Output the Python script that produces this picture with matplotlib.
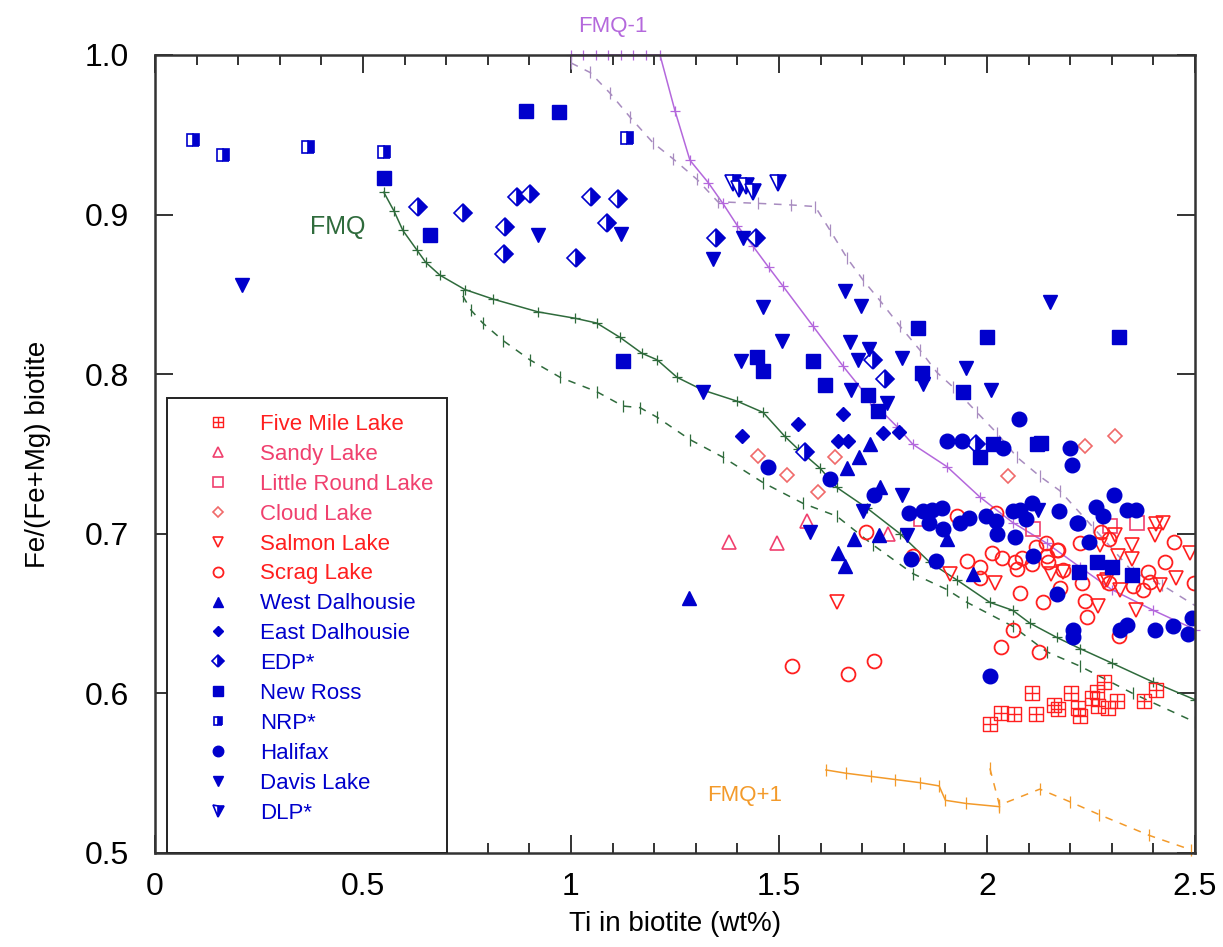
import matplotlib
matplotlib.use('Agg')
import numpy as np
import matplotlib.pyplot as plt
from matplotlib.path import Path
from matplotlib.lines import Line2D
from matplotlib.patches import Rectangle
from matplotlib.ticker import MultipleLocator, FixedLocator

plt.rcParams['font.family'] = ['Liberation Sans', 'DejaVu Sans']

# ---- data (Ti wt%, Fe/(Fe+Mg)) ----
five_mile_x = [2.007, 2.034, 2.065, 2.108, 2.118, 2.161, 2.171, 2.202, 2.219, 2.224, 2.252, 2.264, 2.281, 2.267, 2.291, 2.313, 2.377, 2.406]
five_mile_y = [0.581, 0.588, 0.587, 0.600, 0.587, 0.593, 0.590, 0.600, 0.591, 0.586, 0.597, 0.601, 0.607, 0.592, 0.591, 0.595, 0.595, 0.602]

sandy_x = [1.380, 1.495, 1.567, 1.762]
sandy_y = [0.695, 0.694, 0.708, 0.700]

little_round_x = [2.360, 2.296, 2.111, 1.841]
little_round_y = [0.707, 0.705, 0.703, 0.709]

cloud_x = [1.450, 1.635, 1.519, 1.594, 2.050, 2.236, 2.308]
cloud_y = [0.749, 0.748, 0.737, 0.726, 0.736, 0.755, 0.761]

salmon_x = [1.639, 1.911, 2.019, 2.154, 2.183, 2.406, 2.423, 2.404, 2.308, 2.272, 2.349, 2.315, 2.349,
            2.488, 2.454, 2.416, 2.288, 2.320, 2.267, 2.358, 2.281]
salmon_y = [0.657, 0.675, 0.669, 0.675, 0.676, 0.706, 0.707, 0.699, 0.699, 0.693, 0.693, 0.686, 0.684,
            0.688, 0.672, 0.668, 0.671, 0.665, 0.655, 0.652, 0.670]

scrag_x = [1.531, 1.666, 1.728, 1.709, 1.822, 1.952, 1.983, 1.983, 2.012, 2.036, 2.067, 2.072, 2.084,
           2.108, 2.118, 2.142, 2.144, 2.147, 2.168, 2.175, 2.183, 2.079, 2.135, 2.062, 2.034, 2.125,
           2.274, 2.293, 2.224, 2.171, 2.450, 2.428, 2.387, 2.392, 2.375, 2.351, 2.293, 2.498, 2.236,
           2.240, 2.228, 2.317, 1.928, 2.022]
scrag_y = [0.617, 0.612, 0.620, 0.701, 0.686, 0.683, 0.679, 0.672, 0.688, 0.685, 0.682, 0.678, 0.685,
           0.681, 0.692, 0.694, 0.686, 0.682, 0.690, 0.666, 0.677, 0.663, 0.657, 0.640, 0.629, 0.626,
           0.701, 0.697, 0.694, 0.690, 0.695, 0.682, 0.676, 0.670, 0.665, 0.667, 0.669, 0.669, 0.658,
           0.648, 0.669, 0.636, 0.711, 0.713]

west_dal_x = [1.284, 1.642, 1.659, 1.680, 1.740, 1.719, 1.692, 1.663, 1.743, 1.904, 1.966]
west_dal_y = [0.660, 0.688, 0.680, 0.697, 0.699, 0.756, 0.748, 0.741, 0.729, 0.697, 0.675]

east_dal_x = [1.546, 1.654, 1.750, 1.411, 1.642, 1.666, 1.788]
east_dal_y = [0.769, 0.775, 0.763, 0.761, 0.758, 0.758, 0.764]

edp_x = [0.632, 0.740, 0.870, 0.901, 0.841, 0.839, 1.048, 1.113, 1.087, 1.012, 1.349, 1.445, 1.726,
         1.755, 1.563, 1.974]
edp_y = [0.905, 0.901, 0.911, 0.913, 0.892, 0.875, 0.911, 0.910, 0.895, 0.873, 0.885, 0.885, 0.809,
         0.797, 0.751, 0.756]

new_ross_x = [0.55, 0.661, 0.892, 0.971, 1.125, 1.447, 1.462, 1.582, 1.611, 1.714, 1.738, 1.834, 2.0,
              2.317, 1.844, 1.942, 2.014, 1.983, 2.12, 2.13, 2.264, 2.30, 2.348, 2.221]
new_ross_y = [0.923, 0.887, 0.965, 0.964, 0.808, 0.811, 0.802, 0.808, 0.793, 0.787, 0.777, 0.829, 0.823,
              0.823, 0.801, 0.789, 0.756, 0.748, 0.756, 0.757, 0.682, 0.679, 0.674, 0.676]

nrp_x = [0.091, 0.163, 0.368, 0.550, 1.135]
nrp_y = [0.947, 0.937, 0.942, 0.939, 0.948]

halifax_x = [1.813, 1.846, 1.868, 1.892, 1.861, 1.895, 1.935, 1.957, 1.998, 2.022, 2.024, 2.067, 2.062,
             2.079, 2.108, 2.094, 2.173, 2.216, 1.817, 1.877, 2.111, 2.168, 2.207, 2.207, 1.474, 1.623,
             1.728, 1.904, 1.940, 2.077, 2.200, 2.204, 2.007, 2.305, 2.262, 2.279, 2.219, 2.337, 2.358,
             2.245, 2.320, 2.337, 2.404, 2.447, 2.483, 2.493, 2.038]
halifax_y = [0.713, 0.714, 0.715, 0.716, 0.707, 0.703, 0.707, 0.710, 0.711, 0.708, 0.700, 0.698, 0.714,
             0.715, 0.719, 0.709, 0.714, 0.707, 0.684, 0.683, 0.686, 0.662, 0.640, 0.635, 0.742, 0.734,
             0.724, 0.758, 0.758, 0.772, 0.754, 0.743, 0.611, 0.724, 0.717, 0.711, 0.707, 0.715, 0.715,
             0.695, 0.640, 0.643, 0.640, 0.642, 0.637, 0.647, 0.754]

davis_x = [0.209, 0.921, 1.12, 1.341, 1.413, 1.659, 1.697, 1.462, 1.507, 1.671, 1.716, 1.690, 1.409,
           1.673, 1.760, 1.317, 2.151, 1.796, 1.950, 1.847, 2.010, 1.796, 1.702, 1.575, 1.808, 2.123]
davis_y = [0.856, 0.887, 0.888, 0.872, 0.885, 0.852, 0.843, 0.842, 0.821, 0.820, 0.816, 0.809, 0.808,
           0.790, 0.782, 0.789, 0.845, 0.810, 0.804, 0.794, 0.790, 0.724, 0.714, 0.701, 0.699, 0.715]

dlp_x = [1.390, 1.405, 1.420, 1.438, 1.497]
dlp_y = [0.920, 0.916, 0.918, 0.914, 0.920]

# buffer curves
fmq_x = [0.55, 0.575, 0.596, 0.629, 0.651, 0.685, 0.745, 0.813, 0.921, 1.010, 1.062, 1.118, 1.171, 1.207,
         1.255, 1.317, 1.40, 1.462, 1.514, 1.546, 1.599, 1.639, 1.712, 1.791, 1.863, 1.928, 2.007, 2.062,
         2.103, 2.168, 2.224, 2.30, 2.40, 2.5]
fmq_y = [0.914, 0.902, 0.890, 0.878, 0.870, 0.862, 0.853, 0.847, 0.839, 0.835, 0.832, 0.823, 0.813, 0.809,
         0.798, 0.790, 0.783, 0.776, 0.761, 0.753, 0.741, 0.729, 0.716, 0.700, 0.682, 0.671, 0.657, 0.652,
         0.644, 0.635, 0.628, 0.619, 0.607, 0.596]
fmq_d_x = [0.74, 0.76, 0.788, 0.837, 0.901, 0.974, 1.062, 1.125, 1.166, 1.207, 1.286, 1.365, 1.462, 1.558,
           1.639, 1.726, 1.822, 1.904, 1.952, 2.062, 2.144, 2.224, 2.35, 2.5]
fmq_d_y = [0.849, 0.840, 0.832, 0.821, 0.809, 0.798, 0.789, 0.780, 0.779, 0.773, 0.759, 0.748, 0.732, 0.719,
           0.711, 0.693, 0.675, 0.665, 0.657, 0.642, 0.626, 0.617, 0.600, 0.582]

fmq1_x = [1.00, 1.03, 1.06, 1.09, 1.12, 1.15, 1.18, 1.214, 1.25, 1.286, 1.33, 1.365, 1.40, 1.438, 1.475,
          1.510, 1.582, 1.654, 1.719, 1.784, 1.822, 1.904, 1.983, 2.062, 2.144, 2.224, 2.30, 2.40, 2.5]
fmq1_y = [1.0, 1.0, 1.0, 1.0, 1.0, 1.0, 1.0, 1.0, 0.965, 0.934, 0.920, 0.907, 0.893, 0.880, 0.867,
          0.855, 0.830, 0.805, 0.784, 0.767, 0.756, 0.742, 0.723, 0.707, 0.694, 0.679, 0.665, 0.652, 0.640]
fmq1_d_x = [1.0, 1.046, 1.094, 1.142, 1.197, 1.245, 1.303, 1.353, 1.45, 1.53, 1.587, 1.623, 1.663, 1.702,
            1.743, 1.791, 1.839, 1.880, 1.918, 1.976, 2.024, 2.072, 2.127, 2.175, 2.255, 2.351, 2.42, 2.5]
fmq1_d_y = [0.995, 0.989, 0.976, 0.961, 0.945, 0.935, 0.922, 0.908, 0.907, 0.906, 0.905, 0.890, 0.873,
            0.859, 0.846, 0.830, 0.815, 0.801, 0.792, 0.776, 0.763, 0.748, 0.736, 0.727, 0.704, 0.676,
            0.668, 0.655]

fmqp1_x = [1.613, 1.66, 1.72, 1.78, 1.84, 1.885, 1.90, 1.95, 2.03]
fmqp1_y = [0.552, 0.550, 0.548, 0.546, 0.544, 0.542, 0.533, 0.531, 0.529]
fmqp1_d_x = [2.007, 2.03, 2.127, 2.20, 2.27, 2.39, 2.49]
fmqp1_d_y = [0.553, 0.530, 0.540, 0.532, 0.524, 0.511, 0.502]

# ---- styles ----
RED = '#ff1f1f'
PINK = '#f0406e'
BLUE = '#0000cc'
GREEN = '#2f6b3c'
PURPLE = '#b468dc'
PURPLE_D = '#a88cc0'
ORANGE = '#f39a2a'

box_plus = Path([(-1, -1), (1, -1), (1, 1), (-1, 1), (-1, -1), (0, -1), (0, 1), (-1, 0), (1, 0)],
                [Path.MOVETO, Path.LINETO, Path.LINETO, Path.LINETO, Path.CLOSEPOLY,
                 Path.MOVETO, Path.LINETO, Path.MOVETO, Path.LINETO])

series = [
    ('Five Mile Lake', five_mile_x, five_mile_y, dict(marker=box_plus, ms=10, mfc='none', mec=RED, mew=1.0), RED),
    ('Sandy Lake', sandy_x, sandy_y, dict(marker='^', ms=10, mfc='none', mec=PINK, mew=1.2), PINK),
    ('Little Round Lake', little_round_x, little_round_y, dict(marker='s', ms=10, mfc='none', mec=PINK, mew=1.2), PINK),
    ('Cloud Lake', cloud_x, cloud_y, dict(marker='D', ms=7.5, mfc='none', mec='#f06a6a', mew=1.2), PINK),
    ('Salmon Lake', salmon_x, salmon_y, dict(marker='v', ms=10, mfc='none', mec=RED, mew=1.2), RED),
    ('Scrag Lake', scrag_x, scrag_y, dict(marker='o', ms=10, mfc='none', mec=RED, mew=1.3), RED),
    ('West Dalhousie', west_dal_x, west_dal_y, dict(marker='^', ms=10, color=BLUE, mec=BLUE), BLUE),
    ('East Dalhousie', east_dal_x, east_dal_y, dict(marker='D', ms=7.5, color=BLUE, mec=BLUE), BLUE),
    ('EDP*', edp_x, edp_y, dict(marker='D', ms=9, color=BLUE, mec=BLUE, fillstyle='right', markerfacecoloralt='white', mew=1.2), BLUE),
    ('New Ross', new_ross_x, new_ross_y, dict(marker='s', ms=10, color=BLUE, mec=BLUE), BLUE),
    ('NRP*', nrp_x, nrp_y, dict(marker='s', ms=8, color=BLUE, mec=BLUE, fillstyle='right', markerfacecoloralt='white', mew=1.2), BLUE),
    ('Halifax', halifax_x, halifax_y, dict(marker='o', ms=10.5, color=BLUE, mec=BLUE), BLUE),
    ('Davis Lake', davis_x, davis_y, dict(marker='v', ms=10.5, color=BLUE, mec=BLUE), BLUE),
    ('DLP*', dlp_x, dlp_y, dict(marker='v', ms=11, color=BLUE, mec=BLUE, fillstyle='right', markerfacecoloralt='white', mew=1.2), BLUE),
]

fig = plt.figure(figsize=(12.23, 9.47), dpi=100)
ax = fig.add_axes([0.1267, 0.0993, 0.8504, 0.8427])

# buffer curves with tick marks
ax.plot(fmq_x, fmq_y, '-', color=GREEN, lw=1.1, marker='+', ms=7, mew=0.9)
ax.plot(fmq_d_x, fmq_d_y, color=GREEN, lw=1.1, ls=(0, (5, 5)), marker='|', ms=9, mew=0.9)
ax.plot(fmq1_x, fmq1_y, '-', color=PURPLE, lw=1.1, marker='+', ms=7, mew=0.9, clip_on=False)
ax.plot(fmq1_d_x, fmq1_d_y, color=PURPLE_D, lw=1.1, ls=(0, (5, 5)), marker='|', ms=9, mew=0.9, clip_on=False)
ax.plot(fmqp1_x, fmqp1_y, '-', color=ORANGE, lw=1.1, marker='|', ms=8, mew=0.9)
ax.plot(fmqp1_d_x, fmqp1_d_y, color=ORANGE, lw=1.1, ls=(0, (5, 5)), marker='|', ms=9, mew=0.9, clip_on=False)

handles = []
for name, xs, ys, st, tc in series:
    ax.plot(xs, ys, ls='none', **st)
    hst = dict(st)
    hst['ms'] = st['ms'] * 0.72
    handles.append(Line2D([], [], ls='none', **hst))

ax.text(0.44, 0.892, 'FMQ', color=GREEN, fontsize=18, ha='center', va='center')
ax.text(1.10, 1.018, 'FMQ-1', color=PURPLE, fontsize=16, ha='center', va='center', clip_on=False)
ax.text(1.418, 0.536, 'FMQ+1', color=ORANGE, fontsize=16, ha='center', va='center')

ax.set_xlim(0, 2.5)
ax.set_ylim(0.5, 1.0)
ax.xaxis.set_major_locator(FixedLocator([0, 0.5, 1, 1.5, 2, 2.5]))
ax.xaxis.set_minor_locator(MultipleLocator(0.1))
ax.yaxis.set_major_locator(FixedLocator([0.5, 0.6, 0.7, 0.8, 0.9, 1.0]))
ax.set_xticklabels(['0', '0.5', '1', '1.5', '2', '2.5'])
ax.set_yticklabels(['0.5', '0.6', '0.7', '0.8', '0.9', '1.0'])
ax.tick_params(which='both', direction='in', top=True, right=True, labelsize=23, colors='#333333',
               labelcolor='black', width=1.4)
ax.tick_params(which='major', length=13)
ax.tick_params(which='minor', length=7)
ax.tick_params(axis='x', which='major', pad=14)
ax.tick_params(axis='y', which='major', pad=19)
for sp in ax.spines.values():
    sp.set_linewidth(1.8)
    sp.set_color('#333333')

ax.set_xlabel('Ti in biotite (wt%)', fontsize=20, labelpad=6)
ax.set_ylabel('Fe/(Fe+Mg) biotite', fontsize=20, labelpad=24)

# legend box reaching down to the x axis
ax.add_patch(Rectangle((0.0115, 0.0), 0.2695, 0.570, transform=ax.transAxes, facecolor='white',
                       edgecolor='#222222', lw=1.4, zorder=4))
leg = ax.legend(handles, [s[0] for s in series], loc='upper left', bbox_to_anchor=(0.0433, 0.550),
                fontsize=16, frameon=False, handlelength=1.6, handletextpad=1.1, labelspacing=0.40,
                borderpad=0, borderaxespad=0)
leg.set_zorder(5)
for txt, s in zip(leg.get_texts(), series):
    txt.set_color(s[4])

plt.savefig('out.png', dpi=100)
